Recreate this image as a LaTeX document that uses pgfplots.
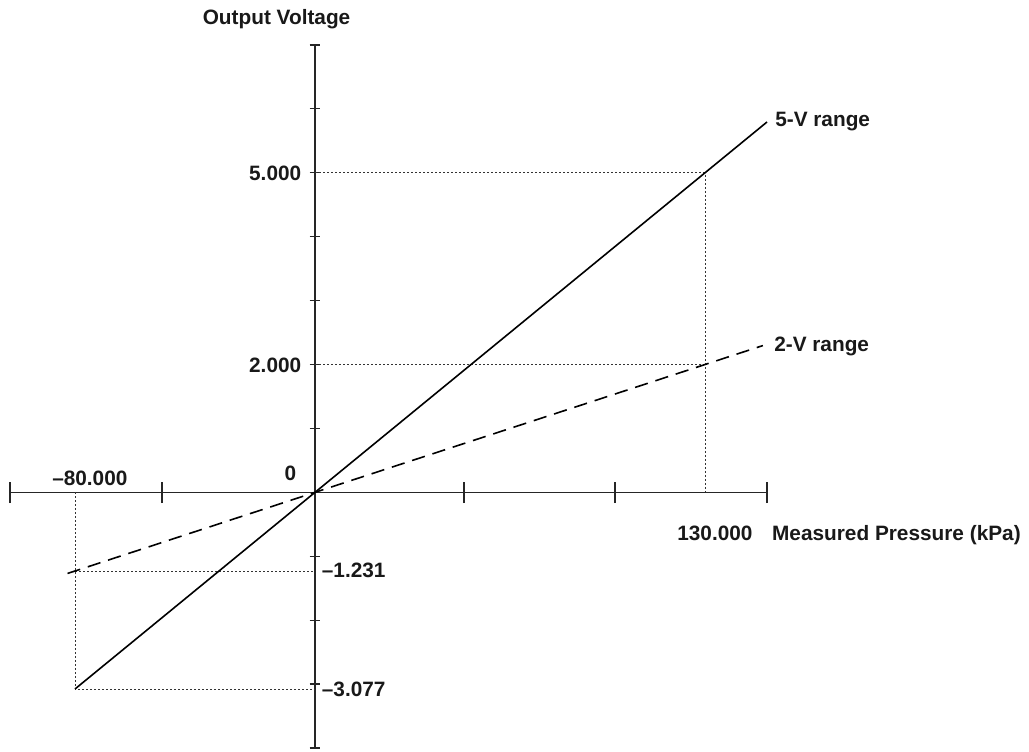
\documentclass[border=0pt]{standalone}
\usepackage{pgfplots}
\pgfplotsset{compat=1.18}
\usepackage{fontspec}
\setmainfont{Liberation Sans}

\begin{document}
\begin{tikzpicture}[x=0.75pt,y=0.75pt,
  lbl/.style={font=\fontsize{15.6}{18}\selectfont\bfseries, inner sep=0pt, text=black!90}]
\path[use as bounding box] (0,0) rectangle (1029,751);
\begin{axis}[
  at={(7.5pt,2.25pt)}, anchor=south west,
  scale only axis, width=567.75pt, height=527.25pt,
  xmin=-101.667, xmax=150.667, ymin=-4, ymax=7,
  axis lines=middle, axis line style={-, line width=0.9pt, black!85},
  clip=false,
  xtick=\empty,
  extra x ticks={-101.667,-51,0,49.667,100,150.667}, extra x tick labels={},
  extra x tick style={major tick length=16pt},
  ytick={-4,-3,...,7}, yticklabels={},
  tick align=center,
  major tick length=8pt,
  every tick/.style={black!85, line width=0.9pt},
]
% guide lines
\addplot[black!80, line width=0.6pt, dash pattern=on 1.5pt off 1.5pt] coordinates {(0,5) (130,5) (130,0)};
\addplot[black!80, line width=0.6pt, dash pattern=on 1.5pt off 1.5pt] coordinates {(0,2) (130,2)};
\addplot[black!80, line width=0.6pt, dash pattern=on 1.5pt off 1.5pt] coordinates {(-80,0) (-80,-3.077) (0,-3.077)};
\addplot[black!80, line width=0.6pt, dash pattern=on 1.5pt off 1.5pt] coordinates {(-80,-1.231) (0,-1.231)};
% ranges
\addplot[black, line width=1.2pt] coordinates {(-80,-3.077) (150.667,5.795)};
\addplot[black, line width=1.2pt, dash pattern=on 10pt off 6pt] coordinates {(-82.5,-1.269) (149.3,2.297)};
% labels
\node[lbl, anchor=base west] at (axis cs:-37.5,7.313) {Output Voltage};
\node[lbl, anchor=base west] at (axis cs:153.33,5.732) {5-V range};
\node[lbl, anchor=base west] at (axis cs:153,2.20) {2-V range};
\node[lbl, anchor=base east] at (axis cs:-4.5,4.875) {5.000};
\node[lbl, anchor=base east] at (axis cs:-4.5,1.87) {2.000};
\node[lbl, anchor=base] at (axis cs:-8.17,0.19) {0};
\node[lbl, anchor=base west] at (axis cs:-87.67,0.10) {–80.000};
\node[lbl, anchor=base west] at (axis cs:2.22,-1.33) {–1.231};
\node[lbl, anchor=base west] at (axis cs:2.22,-3.19) {–3.077};
\node[lbl, anchor=base west] at (axis cs:120.7,-0.748) {130.000};
\node[lbl, anchor=base west] at (axis cs:152.3,-0.748) {Measured Pressure (kPa)};
\end{axis}
\end{tikzpicture}
\end{document}
